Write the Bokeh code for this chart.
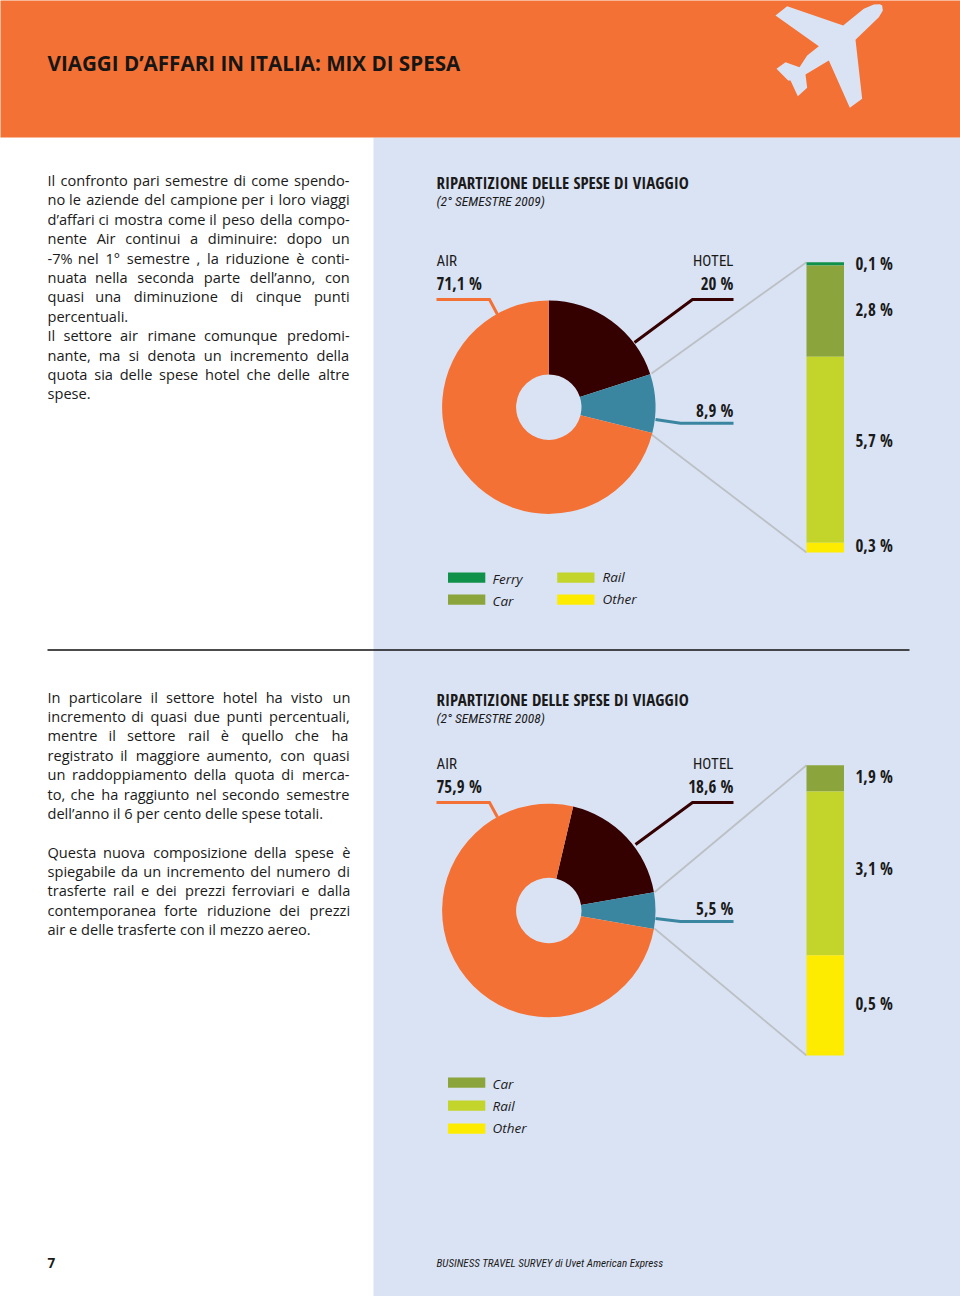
from bokeh.plotting import figure
from bokeh.models import Range1d
from bokeh.core.properties import value
from bokeh.embed import file_html
from bokeh.resources import INLINE
import math

# ---------- data ----------
pie_labels = ["Air", "Hotel", "Other"]
pie_2009 = [71.1, 20.0, 8.9]
pie_2008 = [75.9, 18.6, 5.5]
pie_colors = ["#F47135", "#350000", "#3A86A0"]

bar_2009_names = ["Ferry", "Car", "Rail", "Other"]
bar_2009 = [0.1, 2.8, 5.7, 0.3]
bar_2009_text = ["0,1 %", "2,8 %", "5,7 %", "0,3 %"]

bar_2008_names = ["Car", "Rail", "Other"]
bar_2008 = [0.5, 3.1, 1.9]               # heights as drawn
bar_2008_text = ["1,9 %", "3,1 %", "0,5 %"]  # labels as printed

stack_colors = {"Ferry": "#0F9149", "Car": "#8CA43C", "Rail": "#C3D52B", "Other": "#FDEB00"}

body_1 = ["Il confronto pari semestre di come spendo-", "no le aziende del campione per i loro viaggi",
          "d’affari ci mostra come il peso della compo-", "nente Air continui a diminuire: dopo un",
          "-7% nel 1° semestre , la riduzione è conti-", "nuata nella seconda parte dell’anno, con",
          "quasi una diminuzione di cinque punti", "percentuali.",
          "Il settore air rimane comunque predomi-", "nante, ma si denota un incremento della",
          "quota sia delle spese hotel che delle altre", "spese."]
body_2 = ["In particolare il settore hotel ha visto un", "incremento di quasi due punti percentuali,",
          "mentre il settore rail è quello che ha", "registrato il maggiore aumento, con quasi",
          "un raddoppiamento della quota di merca-", "to, che ha raggiunto nel secondo semestre",
          "dell’anno il 6 per cento delle spese totali."]
body_3 = ["Questa nuova composizione della spese è", "spiegabile da un incremento del numero di",
          "trasferte rail e dei prezzi ferroviari e dalla", "contemporanea forte riduzione dei prezzi",
          "air e delle trasferte con il mezzo aereo."]
unjustified = {"percentuali.", "spese.", "dell’anno il 6 per cento delle spese totali.",
               "air e delle trasferte con il mezzo aereo."}

# ---------- canvas in page pixels ----------
p = figure(width=960, height=1296, x_range=Range1d(0, 960), y_range=Range1d(1296, 0),
           output_backend="svg", toolbar_location=None, min_border=0,
           background_fill_color="white", border_fill_color="white",
           styles={"position": "absolute", "left": "0", "top": "0"})
p.axis.visible = False
p.grid.visible = False
p.outline_line_color = None

SANS = "Open Sans"
NARROW = "Roboto Condensed"
NARROW_B = "Open Sans Condensed"
ORANGE, PANEL = "#F47135", "#DAE3F4"
INK = "#1a1a1a"

# approximate Open Sans advance widths (1/2048 em), used only to justify the body text
ADV = dict(zip("abcdefghijklmnopqrstuvwxyz",
               [1139, 1255, 975, 1255, 1149, 694, 1122, 1257, 518, 518, 1075, 518, 1905, 1257, 1237, 1255, 1255, 836,
                977, 723, 1257, 1020, 1593, 1073, 1024, 958]))
ADV.update({" ": 532, "-": 659, ",": 502, ".": 545, ":": 545, "’": 350, "°": 856, "%": 1686, "è": 1149,
            "A": 1296, "I": 571, "Q": 1597})
BODY_SIZE = 14.6
BODY_WIDTH = 303
HAIR_PX = 1.5


def justify(s):
    if s in unjustified:
        return s
    natural = sum(ADV.get(c, 1171) for c in s) / 2048 * BODY_SIZE
    words = s.split(" ")
    gaps = len(words) - 1
    k = max(0, round((BODY_WIDTH - natural) / HAIR_PX))
    out = words[0]
    for i, w in enumerate(words[1:]):
        n = (k * (i + 1)) // gaps - (k * i) // gaps
        out += " " + "\u200a" * n + w
    return out


def txt(x, y, s, size, font=SANS, style="normal", align="left", color=INK):
    p.text(x=[x], y=[y], text=[s], text_font=value(font), text_font_size=value(f"{size}px"),
           text_font_style=value(style), text_align=value(align),
           text_baseline=value("middle"), text_color=value(color))


def rect(l, t, r, b, color):
    p.quad(left=[l], right=[r], top=[t], bottom=[b], fill_color=color, line_color=None)


def poly(xs, ys, color, w):
    p.line(xs, ys, line_color=color, line_width=w, line_join="miter")


rect(373, 137, 965, 1301, PANEL)
rect(-5, -5, 965, 137, ORANGE)
p.line([47, 909], [649.5, 649.5], line_color="#111111", line_width=1.6)

# plane icon (decoration)
plane_x = [425, 427, 415, 345, 365, 328, 265, 195, 200, 172, 150, 143, 108, 135, 177, 200, 235, 105, 140, 308, 370, 400, 418]
plane_y = [15, 30, 50, 118, 295, 322, 180, 222, 262, 287, 240, 240, 205, 185, 200, 165, 137, 45, 17, 75, 25, 12, 11]
p.patch([740 + v / 3 for v in plane_x], [v / 3 for v in plane_y], fill_color=PANEL, line_color=None)

txt(47, 62, "VIAGGI D’AFFARI IN ITALIA: MIX DI SPESA", 20.6, style="bold", color="#161616")

for lines, y0 in ((body_1, 179.5), (body_2, 696), (body_3, 851)):
    for i, s in enumerate(lines):
        txt(47, y0 + i * 19.4, justify(s), BODY_SIZE)

txt(47, 1262.5, "7", 13.5, style="bold")
txt(436, 1263, "BUSINESS TRAVEL SURVEY di Uvet American Express", 11.1, font=NARROW, style="italic")


def pie(values, cx, cy, start_deg):
    a = math.radians(start_deg)
    for v, name, c in zip(values[1:] + values[:1], pie_labels[1:] + pie_labels[:1], pie_colors[1:] + pie_colors[:1]):
        b = a - v / sum(values) * 2 * math.pi
        p.annular_wedge(x=[cx], y=[cy], inner_radius=32.7, outer_radius=106.7, start_angle=[b], end_angle=[a],
                        direction="anticlock", fill_color=c, line_color=None)
        a = b


def stack(values, names, top, bottom):
    scale = (bottom - top) / sum(values)
    y = top
    for v, n in zip(values, names):
        rect(806, y, 843.5, y + v * scale, stack_colors[n])
        y += v * scale


def header(y, sub):
    txt(436, y, "RIPARTIZIONE DELLE SPESE DI VIAGGIO", 16.9, font=NARROW_B, style="bold")
    txt(436, y + 18.5, sub, 13.5, font=NARROW, style="italic")


# ---------- 2009 ----------
GREY = "#BCC0C4"
LEAD = 3
header(181.5, "(2° SEMESTRE 2009)")
poly([651, 806], [373, 261.7], GREY, 1.8)
poly([651, 806], [434, 552], GREY, 1.8)
pie(pie_2009, 548.3, 406.7, 90)
stack(bar_2009, bar_2009_names, 261.7, 552)
poly([436, 489, 497], [299, 299, 314], pie_colors[0], LEAD)
poly([733, 692, 634], [299, 299, 342], pie_colors[1], LEAD)
poly([733, 680, 655], [422.7, 422.7, 419], pie_colors[2], LEAD)
txt(436, 260, "AIR", 15, font=NARROW)
txt(436, 283, "71,1 %", 17, font=NARROW_B, style="bold")
txt(733, 260, "HOTEL", 15, font=NARROW, align="right")
txt(733, 283, "20 %", 17, font=NARROW_B, style="bold", align="right")
txt(733, 409.5, "8,9 %", 17, font=NARROW_B, style="bold", align="right")
for s, y in zip(bar_2009_text, (262.5, 308.5, 439.5, 544.5)):
    txt(855, y, s, 17, font=NARROW_B, style="bold")
for n, l, t, tx, ty in (("Ferry", 447.5, 572, 492, 578), ("Car", 447.5, 594, 492, 600),
                        ("Rail", 556.7, 572, 602, 576.5), ("Other", 556.7, 594, 602, 598.5)):
    rect(l, t, l + 37.3, t + 10.3, stack_colors[n])
    txt(tx, ty, n, 13.5, style="italic")

# ---------- 2008 ----------
header(698.5, "(2° SEMESTRE 2008)")
poly([654, 806], [891.7, 764.7], GREY, 1.8)
poly([654, 806], [928, 1055], GREY, 1.8)
pie(pie_2008, 548.3, 910, 76.8)
stack(bar_2008, bar_2008_names, 764.7, 1055)
poly([436, 489, 497], [802, 802, 816.7], pie_colors[0], LEAD)
poly([733, 692, 635], [802, 802, 844], pie_colors[1], LEAD)
poly([733, 680, 655], [921, 921, 918], pie_colors[2], LEAD)
txt(436, 763, "AIR", 15, font=NARROW)
txt(436, 786, "75,9 %", 17, font=NARROW_B, style="bold")
txt(733, 763, "HOTEL", 15, font=NARROW, align="right")
txt(733, 786, "18,6 %", 17, font=NARROW_B, style="bold", align="right")
txt(733, 907.5, "5,5 %", 17, font=NARROW_B, style="bold", align="right")
for s, y in zip(bar_2008_text, (776, 867.5, 1002.5)):
    txt(855, y, s, 17, font=NARROW_B, style="bold")
for n, t, ty in (("Car", 1077, 1083.5), ("Rail", 1100, 1105), ("Other", 1123, 1127.5)):
    rect(447.5, t, 484.8, t + 10.3, stack_colors[n])
    txt(492, ty, n, 13.5, style="italic")

open("out.html", "w").write(file_html(p, INLINE))
